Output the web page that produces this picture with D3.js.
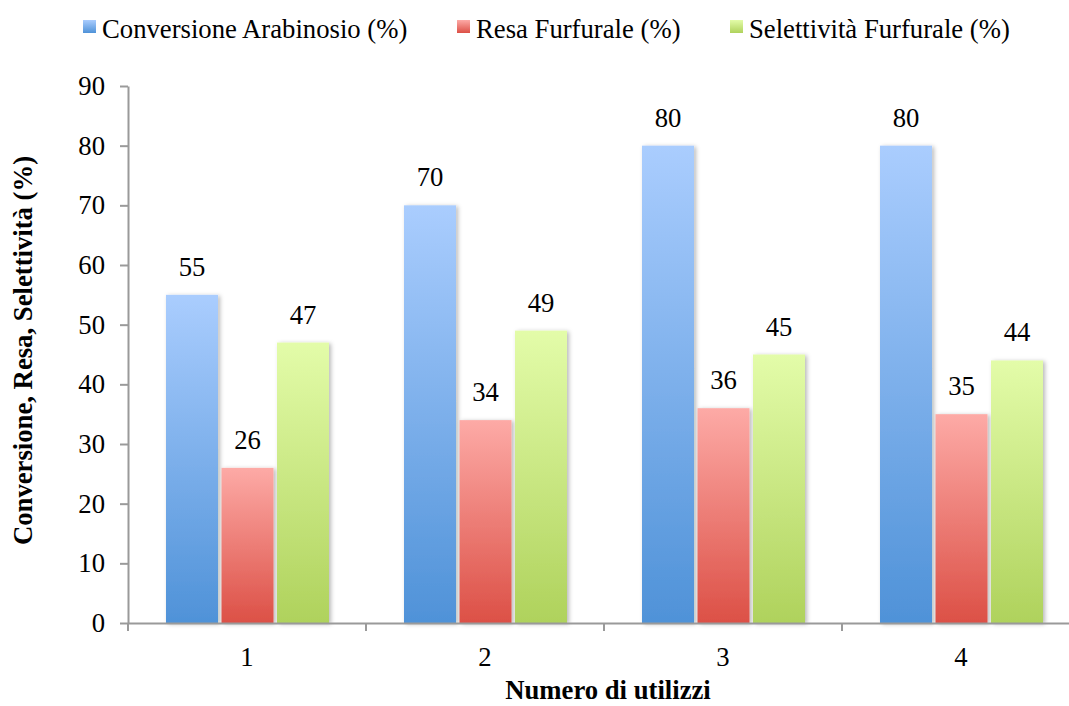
<!DOCTYPE html>
<html>
<head>
<meta charset="utf-8">
<script src="https://cdn.jsdelivr.net/npm/d3@7"></script>
</head>
<body style="margin:0">
<svg id="chart" width="1069" height="706"></svg>
<script>
// Reuse cycles of the catalyst
const categories = ["1", "2", "3", "4"];
const seriesNames = ["Conversione Arabinosio (%)", "Resa Furfurale (%)", "Selettività Furfurale (%)"];
const conversione = [55, 70, 80, 80];
const resa = [26, 34, 36, 35];
const selettivita = [47, 49, 45, 44];
const yTicks = [0, 10, 20, 30, 40, 50, 60, 70, 80, 90];

const seriesValues = [conversione, resa, selettivita];
const gradientStops = [
  ["#aacdfe", "#4f92d8"],
  ["#fdaaa6", "#dc5046"],
  ["#e3fca9", "#afd25c"]
];

const FONT = "Liberation Serif";
const FS = 26.7;

const svg = d3.select("#chart");
const margin = { left: 128, top: 86, bottom: 623, right: 1080 };

const defs = svg.append("defs");
gradientStops.forEach((c, i) => {
  const g = defs.append("linearGradient")
    .attr("id", "grad" + i)
    .attr("x1", 0).attr("y1", 0).attr("x2", 0).attr("y2", 1);
  g.append("stop").attr("offset", "0%").attr("stop-color", c[0]);
  g.append("stop").attr("offset", "100%").attr("stop-color", c[1]);
});
const shadow = defs.append("filter").attr("id", "shadow")
  .attr("x", "-20%").attr("y", "-5%").attr("width", "150%").attr("height", "115%");
shadow.append("feDropShadow")
  .attr("dx", 2).attr("dy", 1).attr("stdDeviation", 2)
  .attr("flood-color", "#000").attr("flood-opacity", 0.28);

const x0 = d3.scaleBand().domain(categories).range([margin.left, margin.right]).padding(0);
const x1 = d3.scaleBand().domain(d3.range(seriesNames.length))
  .range([38, 201]).paddingInner(0.063).paddingOuter(0);
const y = d3.scaleLinear().domain([0, 90]).range([margin.bottom, margin.top]);

// Bars
const groups = svg.append("g").selectAll("g")
  .data(categories)
  .join("g")
  .attr("transform", d => `translate(${x0(d)},0)`);

groups.selectAll("rect")
  .data((d, ci) => seriesValues.map((vals, si) => ({ si, v: vals[ci] })))
  .join("rect")
  .attr("x", d => x1(d.si))
  .attr("width", x1.bandwidth())
  .attr("y", d => y(d.v))
  .attr("height", d => y(0) - y(d.v))
  .attr("fill", d => `url(#grad${d.si})`)
  .attr("filter", "url(#shadow)");

groups.selectAll("text.val")
  .data((d, ci) => seriesValues.map((vals, si) => ({ si, v: vals[ci] })))
  .join("text")
  .attr("class", "val")
  .attr("x", d => x1(d.si) + x1.bandwidth() / 2)
  .attr("y", d => y(d.v) - 19)
  .attr("text-anchor", "middle")
  .attr("font-family", FONT)
  .attr("font-size", FS)
  .attr("fill", "#000")
  .text(d => d3.format("d")(d.v));

// Axes
const axisColor = "#9a9a9a";
const yAxis = svg.append("g")
  .attr("transform", `translate(${margin.left},0)`)
  .call(d3.axisLeft(y).tickValues(yTicks).tickSize(8).tickPadding(15).tickSizeOuter(0));
yAxis.select(".domain").attr("stroke", axisColor).attr("stroke-width", 2);
yAxis.selectAll(".tick line").attr("stroke", axisColor).attr("stroke-width", 2);
yAxis.selectAll(".tick text")
  .attr("font-family", FONT).attr("font-size", FS).attr("fill", "#000");

const xAxis = svg.append("g")
  .attr("transform", `translate(0,${margin.bottom})`)
  .call(d3.axisBottom(x0).tickSize(0).tickPadding(24).tickSizeOuter(0));
xAxis.select(".domain").attr("stroke", axisColor).attr("stroke-width", 2);
xAxis.selectAll(".tick text")
  .attr("font-family", FONT).attr("font-size", FS).attr("fill", "#000");

// Category boundary ticks
const bounds = categories.map(c => x0(c)).concat([margin.right]);
svg.append("g").selectAll("line")
  .data(bounds)
  .join("line")
  .attr("x1", d => d).attr("x2", d => d)
  .attr("y1", margin.bottom).attr("y2", margin.bottom + 8)
  .attr("stroke", axisColor).attr("stroke-width", 2);

// Axis titles
svg.append("text")
  .attr("x", (margin.left + margin.right) / 2 + 4)
  .attr("y", 699)
  .attr("text-anchor", "middle")
  .attr("font-family", FONT)
  .attr("font-size", FS)
  .attr("font-weight", "bold")
  .text("Numero di utilizzi");

svg.append("text")
  .attr("transform", `translate(32,${(margin.top + margin.bottom) / 2 - 4}) rotate(-90)`)
  .attr("text-anchor", "middle")
  .attr("font-family", FONT)
  .attr("font-size", FS)
  .attr("font-weight", "bold")
  .text("Conversione, Resa, Selettività (%)");

// Legend
const legendX = [83, 457, 730];
const legend = svg.append("g").selectAll("g")
  .data(seriesNames)
  .join("g")
  .attr("transform", (d, i) => `translate(${legendX[i]},20)`);
legend.append("rect")
  .attr("width", 13).attr("height", 13)
  .attr("fill", (d, i) => `url(#grad${i})`);
legend.append("text")
  .attr("x", 19).attr("y", 18)
  .attr("font-family", FONT)
  .attr("font-size", FS)
  .text(d => d);
</script>
</body>
</html>
